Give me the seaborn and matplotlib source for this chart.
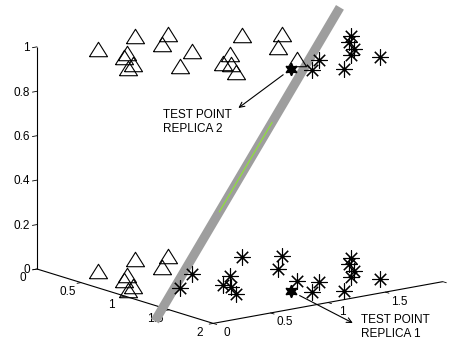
import numpy as np
import matplotlib
matplotlib.use("Agg")
import matplotlib.pyplot as plt
import seaborn as sns
from mpl_toolkits.mplot3d import proj3d

sns.set_theme(style="white")
plt.rcParams["font.family"] = ["Liberation Sans", "DejaVu Sans"]

# Training points, shared by both replicas (x, y on the floor)
pt_x = [0.30, 0.17, 0.26, 0.47, 0.51, 0.61, 0.79, 0.86,
        1.05, 0.76, 1.16, 0.98, 1.22, 1.42, 0.59, 0.74, 1.02, 1.38,
        1.49, 1.69, 1.06, 1.20, 1.38, 1.51, 1.80, 1.67]
pt_y = [0.30, 0.72, 0.94, 0.73, 0.39, 0.29, 0.23, 0.13,
        0.44, 0.77, 0.73, 0.93, 0.75, 0.64, 1.33, 1.57, 1.32, 1.21,
        1.31, 1.10, 1.92, 1.80, 1.70, 1.58, 1.29, 1.71]
# Class of each point in replica 1 (z = 0) and replica 2 (z = 1)
class_rep1 = ["A"] * 8 + ["B"] * 18
class_rep2 = ["A"] * 18 + ["B"] * 8
replica_z = [0.0, 1.0]

# Test point, replicated on both levels
test_x, test_y = 1.58, 1.00
test_labels = ["TEST POINT\nREPLICA 1", "TEST POINT\nREPLICA 2"]

# Separating plane z = w1*x + w2*y + b, drawn along its trace x = y
w1, w2, b = 0.7975, 0.7794, -1.134
trace_s = [0.581, 1.493]
accent_s = [0.90, 1.16]

x_ticks = [0, 0.5, 1, 1.5, 2]
x_ticklabels = ["0", "0.5", "1", "1.5", "2"]
y_ticks = [0, 0.5, 1, 1.5, 2]
y_ticklabels = ["0", "0.5", "1", "1.5"]
z_ticks = [0, 0.2, 0.4, 0.6, 0.8, 1]
z_ticklabels = ["0", "0.2", "0.4", "0.6", "0.8", "1"]

W, H = 450, 343
FS = 8.5
fig = plt.figure(figsize=(W / 100, H / 100), dpi=100)
ax = fig.add_axes([0, 0, 1, 1], projection="3d", proj_type="ortho",
                  computed_zorder=False)
ax.view_init(elev=13.7, azim=-37.5)
ax.set_box_aspect((1, 1, 0.79))
ax.set_xlim(0, 2)
ax.set_ylim(0, 2)
ax.set_zlim(0, 1)
ax.set_xticks([])
ax.set_yticks([])
ax.set_zticks([])
ax.set_axis_off()

# Axis lines, ticks and tick labels (x along y=0, y along x=2, z at the origin)
line_kw = dict(color="black", lw=0.8, zorder=1, solid_capstyle="butt")
tick_kw = dict(color="black", lw=0.6, zorder=1)
txt_kw = dict(fontsize=FS, color="black", zorder=1)
ax.plot([0, 2], [0, 0], [0, 0], **line_kw)
ax.plot([2, 2], [0, 2], [0, 0], **line_kw)
ax.plot([0, 0], [0, 0], [0, 1], **line_kw)
for t in x_ticks:
    ax.plot([t, t], [0, -0.035], [0, 0], **tick_kw)
for t, lab in zip(x_ticks, x_ticklabels):
    ax.text(t, -0.12, -0.03, lab, ha="center", va="center", **txt_kw)
for t in y_ticks:
    ax.plot([2, 2.04], [t, t], [0, 0], **tick_kw)
for t, lab in zip(y_ticks, y_ticklabels):
    ax.text(2.16, t, -0.023, lab, ha="center", va="center", **txt_kw)
for t in z_ticks:
    ax.plot([0, 0], [0, -0.04], [t, t], **tick_kw)
for t, lab in zip(z_ticks, z_ticklabels):
    ax.text(0, -0.06, t, lab, ha="right", va="center", **txt_kw)

# Separating plane seen edge-on
sx = np.array(trace_s)
ax.plot(sx, sx, w1 * sx + w2 * sx + b, color="#9e9e9e", lw=6.6,
        solid_capstyle="butt", zorder=2)
sa_ = np.array(accent_s)
ax.plot(sa_ + 0.01, sa_ - 0.01, w1 * sa_ + w2 * sa_ + b, color="#8fe03c",
        lw=0.9, zorder=2.1)

# Both replicas of the training set
tri = [(-1, -0.8), (1, -0.8), (0, 0.8), (-1, -0.8)]
styles = {
    "A": dict(marker=tri, ms=13, mfc="none", mec="black", mew=0.8),
    "B": dict(marker=(8, 2, 0), ms=11.5, mec="black", mew=0.8),
}
px = np.array(pt_x)
py = np.array(pt_y)
for z, classes in zip(replica_z, (class_rep1, class_rep2)):
    cls = np.array(classes)
    for c, st in styles.items():
        m = cls == c
        ax.plot(px[m], py[m], np.full(m.sum(), z), ls="none", zorder=3, **st)
    ax.plot([test_x], [test_y], [z], ls="none", marker=(6, 1, 0), ms=9,
            mfc="black", mec="black", zorder=4)

# Place the axes so the box lands where intended
fig.canvas.draw()


def to_px(x, y, z):
    X, Y, _ = proj3d.proj_transform(np.atleast_1d(x), np.atleast_1d(y),
                                    np.atleast_1d(z), ax.get_proj())
    return ax.transData.transform(np.column_stack([X, Y]))


p0 = to_px(0, 0, 0)[0]
p1 = to_px(2, 0, 0)[0]
bb = ax.get_position().transformed(fig.transFigure)
side = bb.width
cen = np.array([bb.x0 + bb.width / 2, bb.y0 + bb.height / 2])
scale = np.hypot(176, 55) / np.hypot(*(p1 - p0))
new_side = side * scale
target = np.array([37.0, H - 269.0])
new_cen = target - (p0 - cen) * scale
ax.set_position([(new_cen[0] - new_side / 2) / W, (new_cen[1] - new_side / 2) / H,
                 new_side / W, new_side / H])
fig.canvas.draw()

# Callouts for the two replicas of the test point
text_offsets = [(70, -23), (-128, -40)]
rel_pos = [(0.0, 0.5), (1.0, 0.85)]
shrink_a = [4, 3]
for z, lab, off, rp, sa in zip(replica_z, test_labels, text_offsets, rel_pos, shrink_a):
    X, Y, _ = proj3d.proj_transform(np.array([test_x]), np.array([test_y]),
                                    np.array([z]), ax.get_proj())
    ax.annotate(lab, xy=(X[0], Y[0]), xycoords="data", xytext=off,
                textcoords="offset pixels", ha="left", va="top", fontsize=FS,
                linespacing=1.25, color="black",
                arrowprops=dict(arrowstyle="<-", color="black", lw=0.8,
                                shrinkA=sa, shrinkB=7, relpos=rp,
                                mutation_scale=9))

fig.savefig("out.png", dpi=100)
